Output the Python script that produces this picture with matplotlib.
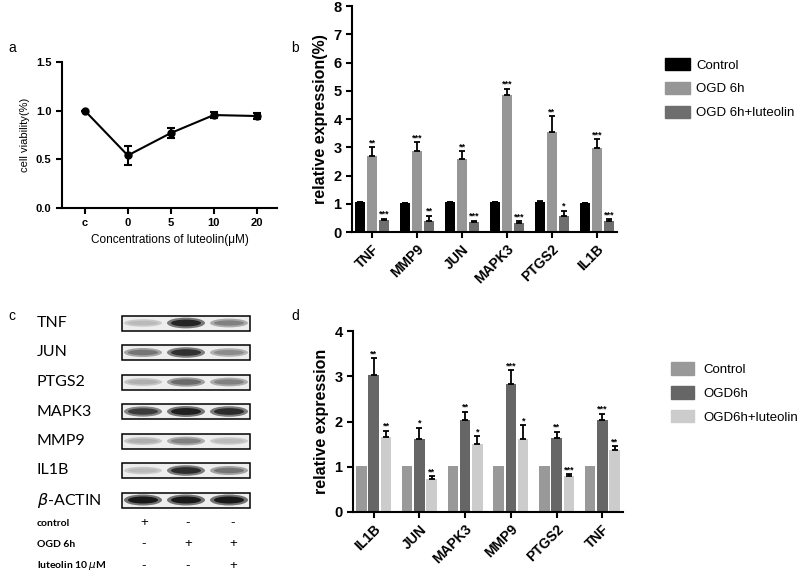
import numpy as np
import matplotlib
matplotlib.use("Agg")
import matplotlib.pyplot as plt
from matplotlib.patches import Patch, Rectangle, Ellipse

plt.rcParams['font.family'] = ['Liberation Sans', 'DejaVu Sans']

# --- panel a: cell viability ---
conc_labels = ['c', '0', '5', '10', '20']
viability = [1.0, 0.54, 0.77, 0.955, 0.945]
viability_err = [0.0, 0.1, 0.05, 0.03, 0.03]

# --- panel b: qPCR relative expression ---
genes_b = ['TNF', 'MMP9', 'JUN', 'MAPK3', 'PTGS2', 'IL1B']
b_control = [1.05, 1.03, 1.06, 1.05, 1.07, 1.03]
b_control_err = [0.0, 0.0, 0.0, 0.0, 0.03, 0.0]
b_ogd = [2.7, 2.85, 2.58, 4.85, 3.55, 2.97]
b_ogd_err = [0.3, 0.32, 0.28, 0.22, 0.55, 0.32]
b_lut = [0.42, 0.4, 0.35, 0.33, 0.58, 0.4]
b_lut_err = [0.05, 0.18, 0.05, 0.05, 0.18, 0.05]
b_ogd_stars = ['**', '***', '**', '***', '**', '***']
b_lut_stars = ['***', '**', '***', '***', '*', '***']

# --- panel c: western blot band intensities (0 = none, 1 = black) ---
blot_names = ['TNF', 'JUN', 'PTGS2', 'MAPK3', 'MMP9', 'IL1B', r'$\beta$-ACTIN']
blot_intensity = [
    [0.30, 0.95, 0.55],
    [0.60, 0.90, 0.50],
    [0.35, 0.65, 0.55],
    [0.85, 0.97, 0.92],
    [0.35, 0.55, 0.30],
    [0.30, 0.92, 0.60],
    [1.00, 1.00, 1.00],
]
treat_names = ['control', 'OGD 6h', r'luteolin 10 $\mu$M']
treat_signs = [['+', '-', '-'], ['-', '+', '+'], ['-', '-', '+']]

# --- panel d: western blot quantification ---
genes_d = ['IL1B', 'JUN', 'MAPK3', 'MMP9', 'PTGS2', 'TNF']
d_control = [1.02, 1.02, 1.02, 1.02, 1.02, 1.02]
d_ogd = [3.03, 1.62, 2.03, 2.84, 1.64, 2.03]
d_ogd_err = [0.37, 0.24, 0.19, 0.29, 0.13, 0.14]
d_lut = [1.65, 0.72, 1.5, 1.61, 0.8, 1.37]
d_lut_err = [0.14, 0.07, 0.17, 0.31, 0.03, 0.08]
d_ogd_stars = ['**', '*', '**', '***', '**', '***']
d_lut_stars = ['**', '**', '*', '*', '***', '**']

fig = plt.figure(figsize=(8, 5.72), dpi=100)


def style_axes(ax, lw=1.5):
    for s in ['top', 'right']:
        ax.spines[s].set_visible(False)
    for s in ['left', 'bottom']:
        ax.spines[s].set_linewidth(lw)
    ax.tick_params(width=lw, length=4, direction='out')


def stars(ax, x, tops, labels, size=6.5):
    for xi, t, lab in zip(x, tops, labels):
        ax.text(xi, t, lab, ha='center', va='bottom', fontsize=size, fontweight='bold')


# panel a
axa = fig.add_axes([0.0775, 0.6364, 0.26875, 0.2552])
xa = np.arange(len(conc_labels))
axa.errorbar(xa, viability, yerr=viability_err, color='black', lw=1.5, marker='o',
             markersize=5, capsize=3, capthick=1.5, elinewidth=1.5)
axa.set_xlim(-0.53, 4.47)
axa.set_ylim(0, 1.5)
axa.set_yticks([0, 0.5, 1.0, 1.5])
axa.set_yticklabels(['0.0', '0.5', '1.0', '1.5'], fontweight='bold', fontsize=8)
axa.set_xticks(xa)
axa.set_xticklabels(conc_labels, fontweight='bold', fontsize=8)
axa.set_ylabel('cell viability(%)', fontsize=8)
axa.set_xlabel('Concentrations of luteolin(\u03bcM)', fontsize=8.5)
style_axes(axa)

# panel b
axb = fig.add_axes([0.44, 0.5944, 0.33125, 0.3951])
xb = np.arange(len(genes_b))
w, off = 0.22, 0.27
axb.bar(xb - off, b_control, w, color='#000000')
axb.errorbar(xb - off, b_control, yerr=[np.zeros(6), b_control_err], fmt='none',
             ecolor='black', capsize=2, elinewidth=1.3, capthick=1.3)
axb.bar(xb, b_ogd, w, color='#969696')
axb.errorbar(xb, b_ogd, yerr=[np.zeros(6), b_ogd_err], fmt='none',
             ecolor='black', capsize=2, elinewidth=1.3, capthick=1.3)
axb.bar(xb + off, b_lut, w, color='#6e6e6e')
axb.errorbar(xb + off, b_lut, yerr=[np.zeros(6), b_lut_err], fmt='none',
             ecolor='black', capsize=2, elinewidth=1.3, capthick=1.3)
stars(axb, xb, np.array(b_ogd) + np.array(b_ogd_err), b_ogd_stars)
stars(axb, xb + off, np.array(b_lut) + np.array(b_lut_err), b_lut_stars)
axb.set_xlim(-0.45, 5.45)
axb.set_ylim(0, 8)
axb.set_yticks(range(0, 9))
axb.set_yticklabels([str(i) for i in range(9)], fontweight='bold', fontsize=10.5)
axb.set_xticks(xb)
axb.set_xticklabels(genes_b, rotation=45, ha='right', rotation_mode='anchor',
                    fontweight='bold', fontsize=10)
axb.set_ylabel('relative expression(%)', fontweight='bold', fontsize=11.5)
style_axes(axb)
axb.legend(handles=[Patch(color='#000000', label='Control'),
                    Patch(color='#969696', label='OGD 6h'),
                    Patch(color='#6e6e6e', label='OGD 6h+luteolin')],
           loc='upper left', bbox_to_anchor=(0.8225, 0.91), bbox_transform=fig.transFigure,
           frameon=False, fontsize=9.5, handlelength=1.9, handleheight=1.0,
           labelspacing=0.8, handletextpad=0.5, borderpad=0)

# panel c (blot), drawn in pixel-like coordinates of its region
axc = fig.add_axes([0, 0, 0.375, 272 / 572])
axc.set_xlim(0, 300)
axc.set_ylim(572, 300)
axc.axis('off')
lane_x = [143, 186, 229]
row_y0, row_dy = 323, 29.5
for i, (name, inten) in enumerate(zip(blot_names, blot_intensity)):
    y = row_y0 + i * row_dy
    axc.text(37, y, name, ha='left', va='center', fontsize=11.5, family='Lato')
    axc.add_patch(Rectangle((122, y - 7.5), 128, 15, facecolor='#eeeeee',
                            edgecolor='black', lw=1.1))
    for lx, v in zip(lane_x, inten):
        shade = 1 - 0.9 * v
        axc.add_patch(Ellipse((lx, y), 38, 6 + 5 * v, facecolor=str(shade * 0.7 + 0.25),
                              edgecolor='none', alpha=0.8))
        axc.add_patch(Ellipse((lx, y), 30, 3 + 4 * v, facecolor=str(shade),
                              edgecolor='none'))
for j, (tname, signs) in enumerate(zip(treat_names, treat_signs)):
    y = 523 + j * 21.5
    axc.text(37, y, tname, ha='left', va='center', fontsize=7.5, fontweight='bold', family='Lato')
    for lx, s in zip([144, 188, 233], signs):
        axc.text(lx, y, s, ha='center', va='center', fontsize=9.5)

# panel d
axd = fig.add_axes([0.44125, 0.1049, 0.3375, 0.3164])
xd = np.arange(len(genes_d))
w, off = 0.23, 0.27
axd.bar(xd - off, d_control, w, color='#999999')
axd.bar(xd, d_ogd, w, color='#666666')
axd.errorbar(xd, d_ogd, yerr=[np.zeros(6), d_ogd_err], fmt='none',
             ecolor='black', capsize=2, elinewidth=1.3, capthick=1.3)
axd.bar(xd + off, d_lut, w, color='#cccccc')
axd.errorbar(xd + off, d_lut, yerr=[np.zeros(6), d_lut_err], fmt='none',
             ecolor='black', capsize=2, elinewidth=1.3, capthick=1.3)
stars(axd, xd, np.array(d_ogd) + np.array(d_ogd_err), d_ogd_stars)
stars(axd, xd + off, np.array(d_lut) + np.array(d_lut_err), d_lut_stars)
axd.set_xlim(-0.45, 5.45)
axd.set_ylim(0, 4)
axd.set_yticks(range(0, 5))
axd.set_yticklabels([str(i) for i in range(5)], fontweight='bold', fontsize=10.5)
axd.set_xticks(xd)
axd.set_xticklabels(genes_d, rotation=45, ha='right', rotation_mode='anchor',
                    fontweight='bold', fontsize=10)
axd.set_ylabel('relative expression', fontweight='bold', fontsize=11.5)
style_axes(axd)
axd.legend(handles=[Patch(color='#999999', label='Control'),
                    Patch(color='#666666', label='OGD6h'),
                    Patch(color='#cccccc', label='OGD6h+luteolin')],
           loc='upper left', bbox_to_anchor=(0.831, 0.378), bbox_transform=fig.transFigure,
           frameon=False, fontsize=9.5, handlelength=1.75, handleheight=1.1,
           labelspacing=0.75, handletextpad=0.65, borderpad=0)

# panel letters
for lab, (px, py) in zip('abcd', [(8, 48), (291, 48), (8, 316), (291, 316)]):
    fig.text(px / 800, 1 - py / 572, lab, fontsize=10, ha='left', va='center')

fig.savefig('out.png', dpi=100)
